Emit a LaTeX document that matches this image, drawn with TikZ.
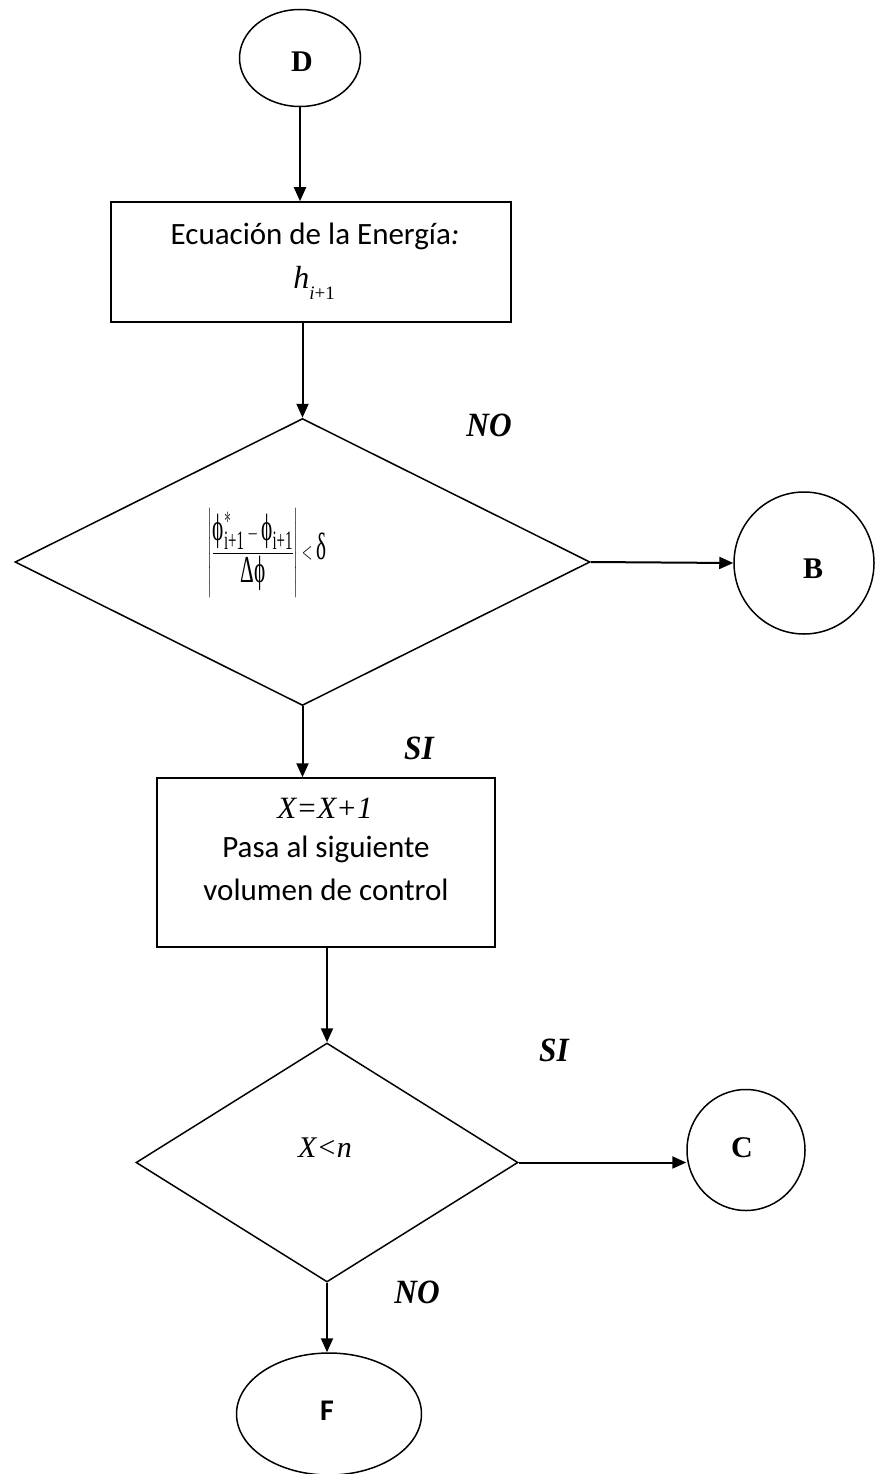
\documentclass[tikz,border=0pt]{standalone}
\usepackage{fontspec}
\usepackage{amsmath}
\usepackage{graphicx}
\setmainfont{Carlito}
\newfontfamily\tnr{Liberation Serif}
\usetikzlibrary{shapes.geometric,arrows.meta}
\newcommand{\phis}{\text{\tnr\char"03D5}}
\tikzset{
  x=1pt, y=-1pt,
  shapeline/.style={draw, line width=1.5pt},
  oval/.style={shapeline, ellipse, inner sep=0pt},
  procbox/.style={shapeline, rectangle, inner sep=0pt},
  decision/.style={shapeline, diamond, inner sep=0pt},
  arr/.style={line width=2pt, -{Triangle[length=14pt,width=12pt]}},
  tag/.style={font=\tnr\bfseries\itshape\fontsize{34}{40}\selectfont},
  conn/.style={font=\tnr\bfseries\fontsize{30}{34}\selectfont},
  body/.style={font=\fontsize{31}{36}\selectfont},
}
\begin{document}
\begin{tikzpicture}
\useasboundingbox (0,0) rectangle (875,1474);

% start connector
\node[oval, minimum width=121pt, minimum height=97pt] (D) at (300,58) {};
\node[conn] (tD) at (302,62) {D};

% energy equation
\node[procbox, minimum width=400pt, minimum height=120pt] (box1) at (311,262) {};
\node[body] (t1) at (315,236) {Ecuación de la Energía\textit{:}};
\node[font=\tnr\itshape\fontsize{32}{36}\selectfont] (t2) at (314,283)
  {h\raisebox{-0.33em}{\fontsize{19}{22}\selectfont\textit{i}\textup{+1}}};

% convergence test
\node[decision, minimum width=575pt, minimum height=287pt] (dia1) at (302.5,562) {};
\node (form) at (267,553) {\scalebox{0.56}[1]{\fontsize{38}{44}\selectfont\tnr
  $\left|\dfrac{\phis^{*}_{\text{i+1}}-\phis_{\text{i+1}}}{\text{Δ}\phis}\right|<\text{δ}$}};
\node[oval, minimum width=140pt, minimum height=142pt] (B) at (804,563) {};
\node[conn] (tB) at (813,569) {B};
\node[tag] (no1) at (489,425) {\scalebox{0.92}[1]{NO}};
\node[tag] (si1) at (419,748) {\scalebox{0.92}[1]{SI}};

% next control volume
\node[procbox, minimum width=338pt, minimum height=169pt] (box2) at (326,862.5) {};
\node[font=\tnr\itshape\fontsize{31}{34}\selectfont] (t3) at (325,808) {X=X+1};
\node[body] (t4) at (326,849) {Pasa al siguiente};
\node[body] (t5) at (326,890) {volumen de control};

% loop test
\node[decision, minimum width=382pt, minimum height=239pt] (dia2) at (327,1162.5) {};
\node[font=\tnr\itshape\fontsize{30}{34}\selectfont] (t6) at (325,1148) {X<n};
\node[oval, minimum width=118pt, minimum height=121pt] (C) at (746,1150) {};
\node[conn] (tC) at (742,1148) {C};
\node[tag] (si2) at (554,1050) {\scalebox{0.92}[1]{SI}};
\node[tag] (no2) at (417,1292) {\scalebox{0.92}[1]{NO}};

% end connector
\node[oval, minimum width=185pt, minimum height=122pt] (F) at (329,1414) {};
\node[font=\bfseries\fontsize{30}{34}\selectfont] (tF) at (327,1411) {F};

% connectors
\draw[arr] (D.south) -- (D.south |- box1.north);
\draw[arr] (box1.south -| dia1.north) -- (dia1.north);
\draw[arr] (dia1.east) -- (B.west);
\draw[arr] (dia1.south) -- (dia1.south |- box2.north);
\draw[arr] (box2.south -| dia2.north) -- (dia2.north);
\draw[arr] (dia2.east) -- (dia2.east -| C.west);
\draw[arr] (dia2.south) -- (dia2.south |- F.north);
\end{tikzpicture}
\end{document}
